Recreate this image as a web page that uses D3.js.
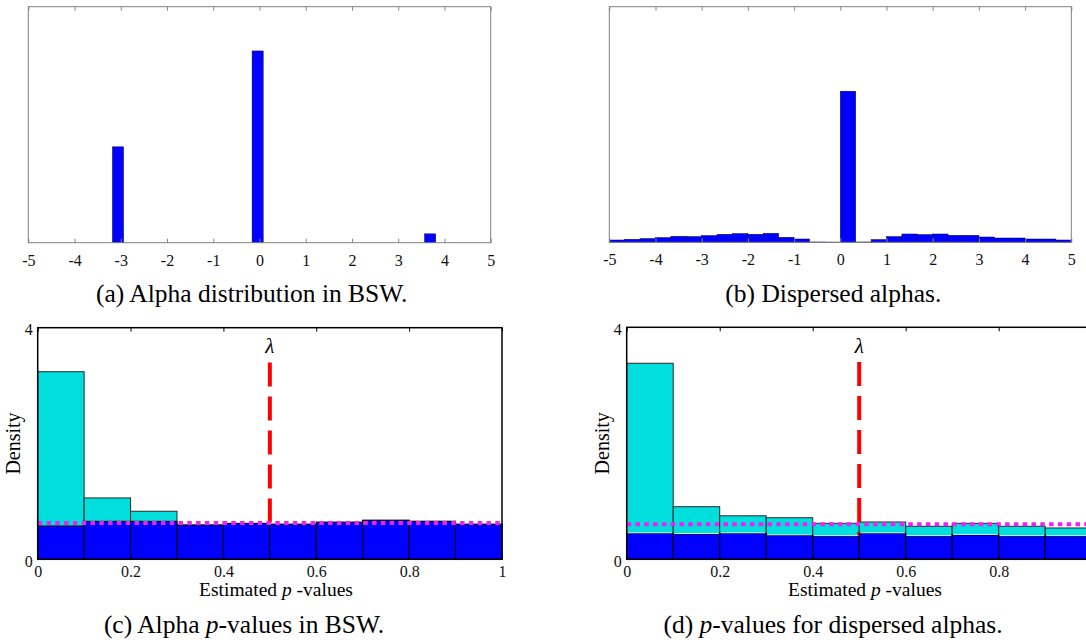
<!DOCTYPE html>
<html>
<head>
<meta charset="utf-8">
<script src="https://cdn.jsdelivr.net/npm/d3@7"></script>
<style>
    body { margin: 0; background: #fff; }
    svg { display: block; }
    svg text { font-family: "Liberation Serif", "Times New Roman", Times, "DejaVu Serif", serif; }
</style>
</head>
<body>
<svg id="chart" width="1086" height="643"></svg>
<script>
// (a) alpha distribution in BSW: three narrow spikes
const bswAlphaCenters = [-3.06, -0.04, 3.69];
const bswAlphaShares = [0.325, 0.65, 0.03];
const bswAlphaBinWidth = 0.24;

// (b) dispersed alphas: 30 bins of width 1/3 on [-5, 5]
const dispersedShares = [
    0.0078, 0.0102, 0.0126, 0.016, 0.0204, 0.0194, 0.0228, 0.0272, 0.0295, 0.0272,
    0.0306, 0.017, 0.0112, 0.001, 0.0005, 0.513, 0.001, 0.0092, 0.0194, 0.0282,
    0.0262, 0.0282, 0.0238, 0.0238, 0.018, 0.0146, 0.0146, 0.0112, 0.0112, 0.0078
];
const alphaTicks = [-5, -4, -3, -2, -1, 0, 1, 2, 3, 4, 5];

// (c), (d) p-value histograms, 10 bins on [0, 1]
const pBinEdges = [0, 0.1, 0.2, 0.3, 0.4, 0.5, 0.6, 0.7, 0.8, 0.9, 1];
const bswAllDensity = [3.24, 1.06, 0.83, 0.592, 0.62, 0.605, 0.64, 0.674, 0.656, 0.605];
const bswNullDensity = [0.575, 0.656, 0.656, 0.592, 0.62, 0.605, 0.64, 0.674, 0.656, 0.605];
const bswPi0 = 0.625;
const dispAllDensity = [3.38, 0.907, 0.75, 0.717, 0.62, 0.643, 0.569, 0.62, 0.569, 0.54];
const dispNullDensity = [0.448, 0.436, 0.448, 0.414, 0.40, 0.448, 0.40, 0.42, 0.40, 0.40];
const dispPi0 = 0.603;
const lambda = 0.5;
const pTicks = [0, 0.2, 0.4, 0.6, 0.8, 1];
const densityTicks = [0, 4];

const captions = {
    a: ['(a) Alpha distribution in BSW.'],
    b: ['(b) Dispersed alphas.'],
    c: ['(c) Alpha ', 'p', '-values in BSW.'],
    d: ['(d) ', 'p', '-values for dispersed alphas.']
};

const svg = d3.select('#chart');
const SVG_WIDTH = 1086;

const addCaption = (parts, cx, baseline) => {
    const t = svg.append('text')
        .attr('x', cx).attr('y', baseline)
        .attr('text-anchor', 'middle')
        .attr('font-size', 25.5);
    parts.forEach((s, i) => {
        t.append('tspan').text(s)
            .attr('font-style', parts.length > 1 && i === 1 ? 'italic' : 'normal');
    });
};

const drawFrame = (x, y, color, width) => {
    svg.append('rect')
        .attr('x', x.range()[0]).attr('y', y.range()[1])
        .attr('width', x.range()[1] - x.range()[0])
        .attr('height', y.range()[0] - y.range()[1])
        .attr('fill', 'none')
        .attr('stroke', color)
        .attr('stroke-width', width);
};

const styleAxis = (g, color) => {
    g.attr('font-family', null);
    g.select('.domain').remove();
    g.selectAll('.tick line').attr('stroke', color);
    g.selectAll('.tick text')
        .attr('fill', '#111')
        .attr('font-size', 16);
};

// ---------- alpha panels (a), (b) ----------
const makeAlphaPanel = (left, right, top, bottom, bars) => {
    const x = d3.scaleLinear().domain([-5, 5]).range([left, right]);
    const y = d3.scaleLinear().domain([0, 0.8]).range([bottom, top]);

    svg.append('g').selectAll('rect')
            .data(bars)
        .enter().append('rect')
            .attr('x', d => x(d.x0))
            .attr('width', d => x(d.x1) - x(d.x0))
            .attr('y', d => y(d.v))
            .attr('height', d => y(0) - y(d.v))
            .attr('fill', '#0000ff')
            .attr('stroke', '#000050')
            .attr('stroke-width', 0.5);

    const bottomAxis = svg.append('g')
        .attr('transform', 'translate(0,' + bottom + ')')
        .call(d3.axisBottom(x).tickValues(alphaTicks)
            .tickSizeInner(-4).tickSizeOuter(0).tickPadding(11.5)
            .tickFormat(d => String(d)));
    styleAxis(bottomAxis, '#888');

    const topAxis = svg.append('g')
        .attr('transform', 'translate(0,' + top + ')')
        .call(d3.axisTop(x).tickValues(alphaTicks)
            .tickSizeInner(-4).tickSizeOuter(0).tickFormat(''));
    styleAxis(topAxis, '#888');

    drawFrame(x, y, '#808080', 1);
};

makeAlphaPanel(28.3, 490.7, 6.7, 242.7,
    bswAlphaCenters.map((c, i) => ({
        x0: c - bswAlphaBinWidth / 2, x1: c + bswAlphaBinWidth / 2, v: bswAlphaShares[i]
    })));

makeAlphaPanel(609.3, 1071.3, 6.7, 242.3,
    dispersedShares.map((v, i) => ({ x0: -5 + i / 3, x1: -5 + (i + 1) / 3, v: v })));

// ---------- p-value panels (c), (d) ----------
const makePvaluePanel = (left, right, top, bottom, allDensity, nullDensity, pi0, labelCx, whiteTops) => {
    const x = d3.scaleLinear().domain([0, 1]).range([left, right]);
    const y = d3.scaleLinear().domain([0, 4]).range([bottom, top]);
    const bins = d3.range(pBinEdges.length - 1).map(i => ({ x0: pBinEdges[i], x1: pBinEdges[i + 1] }));
    const visibleTicks = pTicks.filter(t => x(t) < SVG_WIDTH);

    // all p-values (cyan)
    svg.append('g').selectAll('rect')
            .data(bins)
        .enter().append('rect')
            .attr('x', d => x(d.x0))
            .attr('width', d => x(d.x1) - x(d.x0))
            .attr('y', (d, i) => y(allDensity[i]))
            .attr('height', (d, i) => y(0) - y(allDensity[i]))
            .attr('fill', '#00dede')
            .attr('stroke', '#2a2a2a')
            .attr('stroke-width', 1);

    // lambda threshold
    svg.append('line')
        .attr('x1', x(lambda)).attr('x2', x(lambda))
        .attr('y1', y(3.4)).attr('y2', y(0))
        .attr('stroke', '#ff0000')
        .attr('stroke-width', 4)
        .attr('stroke-dasharray', '24,10');

    svg.append('text')
        .attr('x', x(lambda)).attr('y', y(3.56))
        .attr('text-anchor', 'middle')
        .attr('font-size', 21)
        .attr('font-style', 'italic')
        .text('λ');

    // null p-values (blue)
    svg.append('g').selectAll('rect')
            .data(bins)
        .enter().append('rect')
            .attr('x', d => x(d.x0))
            .attr('width', d => x(d.x1) - x(d.x0))
            .attr('y', (d, i) => y(nullDensity[i]))
            .attr('height', (d, i) => y(0) - y(nullDensity[i]))
            .attr('fill', '#0000ff')
            .attr('stroke', '#000')
            .attr('stroke-width', 1);

    if (whiteTops) {
        svg.append('g').selectAll('line')
                .data(bins)
            .enter().append('line')
                .attr('x1', d => x(d.x0) + 1)
                .attr('x2', d => x(d.x1) - 1)
                .attr('y1', (d, i) => y(nullDensity[i]) - 0.5)
                .attr('y2', (d, i) => y(nullDensity[i]) - 0.5)
                .attr('stroke', '#c8f6f6')
                .attr('stroke-width', 1);
    }

    // estimated pi0 level
    svg.append('line')
        .attr('x1', x(0)).attr('x2', x(1))
        .attr('y1', y(pi0)).attr('y2', y(pi0))
        .attr('stroke', '#f020f0')
        .attr('stroke-width', 4)
        .attr('stroke-dasharray', '4.5,4.3');

    const bottomAxis = svg.append('g')
        .attr('transform', 'translate(0,' + bottom + ')')
        .call(d3.axisBottom(x).tickValues(visibleTicks)
            .tickSizeInner(-4).tickSizeOuter(0).tickPadding(6)
            .tickFormat(d => String(d)));
    styleAxis(bottomAxis, '#000');

    const topAxis = svg.append('g')
        .attr('transform', 'translate(0,' + top + ')')
        .call(d3.axisTop(x).tickValues(visibleTicks)
            .tickSizeInner(-4).tickSizeOuter(0).tickFormat(''));
    styleAxis(topAxis, '#000');

    const leftAxis = svg.append('g')
        .attr('transform', 'translate(' + left + ',0)')
        .call(d3.axisLeft(y).tickValues(densityTicks)
            .tickSize(0).tickPadding(5).tickFormat(d => String(d)));
    styleAxis(leftAxis, '#000');
    leftAxis.selectAll('.tick text').attr('dy', '0.42em');

    drawFrame(x, y, '#000', 1.5);

    const xl = svg.append('text')
        .attr('x', labelCx).attr('y', bottom + 37)
        .attr('text-anchor', 'middle')
        .attr('font-size', 19.5);
    xl.append('tspan').text('Estimated ');
    xl.append('tspan').attr('font-style', 'italic').text('p');
    xl.append('tspan').text(' -values');

    svg.append('text')
        .attr('transform', 'translate(' + (left - 17.5) + ',' + ((top + bottom) / 2) + ') rotate(-90)')
        .attr('text-anchor', 'middle')
        .attr('font-size', 20)
        .text('Density');
};

makePvaluePanel(37.7, 502, 327.7, 559.3, bswAllDensity, bswNullDensity, bswPi0, 276, false);
makePvaluePanel(626.7, 1091.7, 327.3, 559.3, dispAllDensity, dispNullDensity, dispPi0, 865, true);

addCaption(captions.a, 251.7, 302);
addCaption(captions.b, 833.3, 302);
addCaption(captions.c, 244, 633);
addCaption(captions.d, 833, 633);
</script>
</body>
</html>
